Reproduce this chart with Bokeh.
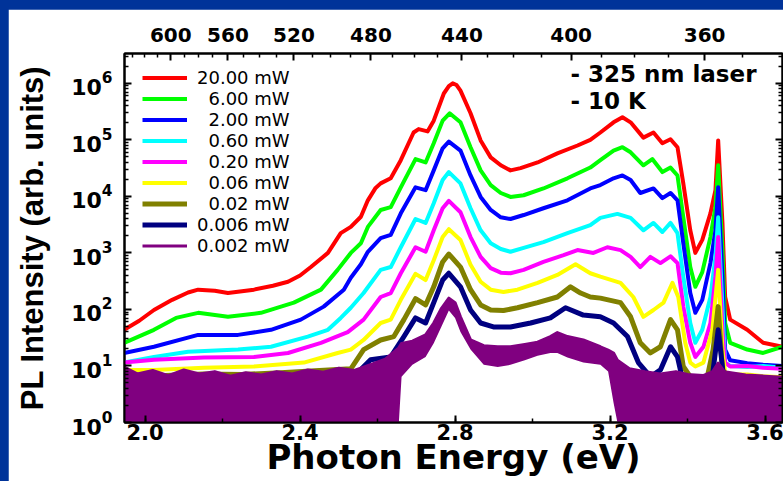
import numpy as np
from bokeh.plotting import figure
from bokeh.models import (LinearAxis, LogAxis, FixedTicker, LogTickFormatter, CustomJSTickFormatter,
                          Legend, LegendItem, Label, Range1d, SingleIntervalTicker)
from bokeh.layouts import column
from bokeh.embed import file_html
from bokeh.resources import INLINE

# ---------------- data (photon energy in eV, log10 of PL intensity) ----------------
legend_labels = ["20.00 mW", "6.00 mW", "2.00 mW", "0.60 mW", "0.20 mW",
                 "0.06 mW", "0.02 mW", "0.006 mW", "0.002 mW"]
colors = ["#FF0000", "#00FF00", "#0000FF", "#00FFFF", "#FF00FF",
          "#FFFF00", "#808000", "#000080", "#800080"]

E_20 = [1.946, 1.985, 2.023, 2.07, 2.111, 2.137, 2.18, 2.214, 2.25, 2.281, 2.33, 2.369, 2.40, 2.428,
        2.472, 2.505, 2.531, 2.557, 2.575, 2.595, 2.608, 2.634, 2.660, 2.693, 2.706, 2.729, 2.745,
        2.771, 2.784, 2.794, 2.804, 2.814, 2.840, 2.866, 2.892, 2.918, 2.943, 2.969, 3.013, 3.064,
        3.116, 3.149, 3.175, 3.209, 3.232, 3.253, 3.286, 3.312, 3.335, 3.356, 3.374, 3.389, 3.407,
        3.420, 3.438, 3.459, 3.472, 3.479, 3.490, 3.497, 3.510, 3.554, 3.595, 3.645]
L_20 = [1.64, 1.80, 1.99, 2.17, 2.30, 2.35, 2.33, 2.29, 2.32, 2.35, 2.42, 2.49, 2.60, 2.75,
        3.00, 3.35, 3.46, 3.64, 3.93, 4.15, 4.23, 4.32, 4.64, 5.13, 5.19, 5.15, 5.34,
        5.82, 5.95, 6.00, 5.97, 5.87, 5.47, 4.99, 4.69, 4.55, 4.46, 4.50, 4.60, 4.76,
        4.90, 5.00, 5.13, 5.31, 5.40, 5.31, 5.04, 5.13, 4.94, 5.01, 4.87, 4.23, 3.40,
        3.00, 3.23, 3.70, 4.11, 4.99, 3.53, 2.22, 1.82, 1.64, 1.41, 1.34]

E_6 = [1.946, 2.023, 2.08, 2.137, 2.214, 2.299, 2.384, 2.454, 2.497, 2.531, 2.557, 2.575, 2.608,
       2.634, 2.660, 2.698, 2.724, 2.745, 2.768, 2.786, 2.814, 2.840, 2.866, 2.892, 2.918, 2.943,
       2.977, 3.028, 3.090, 3.149, 3.175, 3.209, 3.232, 3.253, 3.286, 3.309, 3.335, 3.356, 3.374,
       3.389, 3.407, 3.420, 3.438, 3.459, 3.472, 3.479, 3.490, 3.497, 3.510, 3.554, 3.595, 3.645]
L_6 = [1.41, 1.64, 1.85, 1.94, 1.87, 1.94, 2.12, 2.35, 2.70, 3.00, 3.17, 3.46, 3.76,
       3.81, 4.16, 4.66, 4.60, 4.94, 5.34, 5.47, 5.31, 4.87, 4.46, 4.20, 4.06, 3.99,
       4.02, 4.14, 4.32, 4.51, 4.64, 4.81, 4.87, 4.78, 4.55, 4.66, 4.43, 4.51, 4.37,
       3.63, 2.75, 2.40, 2.66, 3.28, 3.81, 4.55, 3.05, 1.76, 1.41, 1.29, 1.23, 1.34]

E_2 = [1.946, 2.023, 2.137, 2.240, 2.325, 2.402, 2.461, 2.513, 2.531, 2.557, 2.575, 2.608, 2.634,
       2.660, 2.698, 2.724, 2.745, 2.768, 2.784, 2.814, 2.840, 2.866, 2.892, 2.918, 2.943, 2.977,
       3.028, 3.090, 3.149, 3.175, 3.209, 3.232, 3.253, 3.278, 3.312, 3.335, 3.356, 3.374, 3.389,
       3.407, 3.420, 3.438, 3.459, 3.472, 3.479, 3.490, 3.497, 3.510, 3.554, 3.595, 3.645]
L_2 = [1.23, 1.34, 1.55, 1.55, 1.64, 1.82, 2.05, 2.35, 2.56, 2.80, 3.02, 3.26, 3.32,
       3.70, 4.16, 4.11, 4.46, 4.85, 4.97, 4.81, 4.37, 3.99, 3.76, 3.63, 3.60, 3.67,
       3.79, 3.93, 4.14, 4.20, 4.32, 4.37, 4.29, 4.06, 4.14, 3.97, 4.06, 3.93, 3.17,
       2.29, 1.94, 2.17, 2.82, 3.40, 4.16, 2.58, 1.29, 1.10, 1.05, 1.02, 1.00]

E_06 = [1.946, 2.023, 2.111, 2.240, 2.325, 2.420, 2.472, 2.505, 2.531, 2.564, 2.608, 2.634, 2.660,
        2.698, 2.724, 2.745, 2.768, 2.784, 2.814, 2.840, 2.866, 2.892, 2.918, 2.943, 2.977, 3.028,
        3.090, 3.149, 3.175, 3.219, 3.253, 3.286, 3.312, 3.335, 3.356, 3.374, 3.389, 3.407, 3.420,
        3.438, 3.459, 3.472, 3.479, 3.490, 3.497, 3.510, 3.554, 3.595, 3.645]
L_06 = [1.06, 1.16, 1.25, 1.29, 1.34, 1.52, 1.64, 1.85, 2.03, 2.29, 2.70, 2.75, 3.10,
        3.60, 3.53, 3.88, 4.29, 4.43, 4.23, 3.79, 3.40, 3.17, 3.07, 3.02, 3.09, 3.19,
        3.35, 3.49, 3.62, 3.69, 3.62, 3.40, 3.53, 3.37, 3.53, 3.35, 2.58, 1.76, 1.41,
        1.64, 2.22, 2.93, 3.63, 2.05, 1.06, 1.00, 0.98, 1.00, 0.97]

E_02 = [1.946, 2.023, 2.152, 2.281, 2.369, 2.454, 2.523, 2.564, 2.608, 2.634, 2.660, 2.698, 2.724,
        2.745, 2.768, 2.784, 2.814, 2.840, 2.866, 2.892, 2.918, 2.943, 2.977, 3.028, 3.080, 3.116,
        3.157, 3.193, 3.227, 3.253, 3.278, 3.304, 3.330, 3.356, 3.374, 3.389, 3.407, 3.420, 3.441,
        3.459, 3.472, 3.479, 3.490, 3.497, 3.510, 3.554, 3.595, 3.645]
L_02 = [1.06, 1.11, 1.15, 1.16, 1.23, 1.41, 1.60, 1.82, 2.22, 2.29, 2.64, 3.10, 3.02,
        3.40, 3.79, 3.92, 3.72, 3.28, 2.93, 2.73, 2.65, 2.64, 2.70, 2.84, 2.96, 3.05,
        3.00, 3.10, 3.05, 2.93, 2.75, 2.93, 2.82, 2.94, 2.82, 2.05, 1.41, 1.16, 1.34,
        1.76, 2.58, 3.28, 1.64, 1.06, 0.99, 1.00, 0.97, 0.95]

E_006 = [1.946, 2.023, 2.152, 2.281, 2.410, 2.497, 2.531, 2.564, 2.608, 2.634, 2.660, 2.698, 2.724,
         2.745, 2.768, 2.784, 2.814, 2.840, 2.866, 2.892, 2.925, 2.961, 3.013, 3.064, 3.111, 3.149,
         3.175, 3.227, 3.260, 3.286, 3.312, 3.338, 3.361, 3.376, 3.394, 3.407, 3.420, 3.441, 3.464,
         3.479, 3.490, 3.497, 3.510, 3.554, 3.595, 3.645]
L_006 = [0.93, 0.93, 0.97, 0.99, 1.06, 1.23, 1.29, 1.46, 1.76, 1.82, 2.17, 2.63, 2.52,
         2.87, 3.28, 3.42, 3.23, 2.79, 2.49, 2.35, 2.31, 2.35, 2.47, 2.61, 2.80, 2.64,
         2.58, 2.47, 2.22, 1.87, 1.99, 2.12, 2.47, 2.22, 1.41, 1.06, 0.99, 1.06, 1.64,
         2.70, 1.29, 0.88, 0.85, 0.85, 0.82, 0.80]

E_0002 = [1.946, 2.05, 2.15, 2.25, 2.35, 2.45, 2.531, 2.564, 2.608, 2.642, 2.668, 2.698, 2.724,
          2.745, 2.768, 2.784, 2.814, 2.840, 2.866, 2.892, 2.925, 2.961, 3.013, 3.064, 3.098, 3.124,
          3.149, 3.175, 3.227, 3.253, 3.278, 3.304, 3.330, 3.356, 3.374, 3.389, 3.407, 3.451, 3.466,
          3.479, 3.490, 3.510, 3.554, 3.645]
L_0002 = [0.85, 0.83, 0.86, 0.85, 0.88, 0.92, 0.95, 1.29, 1.46, 1.52, 1.82, 2.19, 2.08,
          2.40, 2.84, 2.98, 2.75, 2.35, 2.08, 1.99, 1.98, 2.03, 2.12, 2.22, 2.40, 2.29,
          2.22, 2.20, 2.12, 1.87, 1.41, 1.23, 1.34, 1.82, 1.64, 0.99, 0.81, 0.81, 1.29,
          2.05, 0.93, 0.76, 0.76, 0.75]

E_0006 = [1.946, 2.10, 2.25, 2.40, 2.531, 2.582, 2.634, 2.668, 2.698, 2.724, 2.745, 2.768, 2.784,
          2.814, 2.840, 2.866, 2.899, 2.943, 2.995, 3.046, 3.085, 3.131, 3.175, 3.209, 3.245, 3.273,
          3.304, 3.330, 3.356, 3.374, 3.389, 3.420, 3.460, 3.479, 3.497, 3.550, 3.645]
L_0006 = [0.75, 0.72, 0.74, 0.76, 0.76, 1.11, 1.16, 1.52, 1.85, 1.76, 2.12, 2.52, 2.64,
          2.40, 1.99, 1.76, 1.69, 1.69, 1.76, 1.85, 2.03, 1.90, 1.87, 1.76, 1.52, 1.06,
          0.81, 0.93, 1.34, 1.16, 0.70, 0.58, 0.60, 1.64, 0.58, 0.58, 0.58]

# 0.002 mW: noisy band, lower and upper envelope (log10)
E_00002 = [1.946, 1.98, 2.02, 2.06, 2.10, 2.14, 2.18, 2.22, 2.26, 2.30, 2.34, 2.38, 2.42, 2.46,
           2.50, 2.54, 2.58, 2.62, 2.655, 2.662, 2.690, 2.724, 2.745, 2.765, 2.784, 2.800, 2.814,
           2.840, 2.874, 2.910, 2.943, 2.980, 3.013, 3.046, 3.064, 3.090, 3.131, 3.175, 3.195,
           3.209, 3.219, 3.25, 3.29, 3.33, 3.37, 3.40, 3.44, 3.465, 3.479, 3.495, 3.55, 3.60, 3.645]
LO_00002 = [0.0, 0.0, 0.0, 0.0, 0.0, 0.0, 0.0, 0.0, 0.0, 0.0, 0.0, 0.0, 0.0, 0.0,
            0.0, 0.0, 0.0, 0.0, 0.0, 0.81, 1.02, 1.16, 1.40, 1.70, 1.98, 1.85, 1.60,
            1.29, 1.02, 0.98, 1.02, 1.10, 1.18, 1.23, 1.23, 1.15, 1.06, 1.02, 0.90,
            0.35, 0.0, 0.0, 0.0, 0.0, 0.0, 0.0, 0.0, 0.0, 0.0, 0.0, 0.0, 0.0, 0.0]
HI_00002 = [0.98, 0.86, 0.92, 0.83, 0.93, 0.86, 0.90, 0.82, 0.88, 0.84, 0.90, 0.86, 0.93, 0.89,
            0.96, 0.92, 1.02, 1.12, 1.32, 1.40, 1.44, 1.55, 1.76, 2.02, 2.20, 2.12, 1.87,
            1.46, 1.36, 1.34, 1.34, 1.38, 1.42, 1.52, 1.59, 1.52, 1.46, 1.34, 1.28,
            1.23, 1.10, 0.95, 0.90, 0.86, 0.90, 0.85, 0.83, 0.90, 1.05, 0.90, 0.84, 0.82, 0.80]

series_E = [E_20, E_6, E_2, E_06, E_02, E_006, E_0002, E_0006]
series_L = [L_20, L_6, L_2, L_06, L_02, L_006, L_0002, L_0006]
line_widths = [4, 4, 4, 4, 4, 4, 5, 5]

top_nm_major = [600, 560, 520, 480, 440, 400, 360]
top_nm_minor = list(range(340, 640, 10))
y_decades = [1, 10, 100, 1000, 10000, 100000, 1000000]

x_lo, x_hi = 1.947, 3.645
y_lo, y_hi = 1.0, 3.37e6
HC = 1239.84

p = figure(width=775, height=472, x_range=Range1d(x_lo, x_hi), y_range=Range1d(y_lo, y_hi),
           y_axis_type="log", output_backend="svg", toolbar_location=None,
           min_border_left=116, min_border_right=1, min_border_top=44, min_border_bottom=59,
           x_axis_label="Photon Energy (eV)", y_axis_label="PL Intensity (arb. units)",
           background_fill_color="white", border_fill_color="white")
p.margin = (9, 0, 0, 8)
p.xgrid.visible = False
p.ygrid.visible = False
p.outline_line_color = "black"
p.outline_line_width = 2

renderers = []
for E, L, c, w in zip(series_E, series_L, colors, line_widths):
    r = p.line(E, 10 ** np.array(L), line_color=c, line_width=w, line_join="round")
    renderers.append(r)

p.varea(x=E_00002, y1=10 ** np.array(LO_00002), y2=10 ** np.array(HI_00002),
        fill_color=colors[8])
r_last = p.line(E_00002, 10 ** np.array(HI_00002), line_color=colors[8], line_width=3,
                line_join="round")
renderers.append(r_last)

# axes
xa = p.xaxis[0]
xa.ticker = SingleIntervalTicker(interval=0.4, num_minor_ticks=2)
xa.formatter = CustomJSTickFormatter(code="return tick.toFixed(1)")
ya = p.yaxis[0]
y_minor = [m * d for d in y_decades for m in range(2, 10) if m * d < y_hi]
ya.ticker = FixedTicker(ticks=y_decades, minor_ticks=y_minor)
ya.formatter = LogTickFormatter()

ra = LogAxis(ticker=FixedTicker(ticks=y_decades, minor_ticks=y_minor),
             formatter=CustomJSTickFormatter(code="return ''"))
p.add_layout(ra, "right")

ta = LinearAxis(ticker=FixedTicker(ticks=[HC / nm for nm in top_nm_major],
                                   minor_ticks=[HC / nm for nm in top_nm_minor if nm not in top_nm_major]),
                formatter=CustomJSTickFormatter(code="return (1239.84/tick).toFixed(0)"))
p.add_layout(ta, "above")

for ax in [xa, ya, ra, ta]:
    ax.axis_line_width = 2
    ax.axis_line_color = "black"
    ax.major_tick_line_width = 2
    ax.major_tick_line_color = "black"
    ax.minor_tick_line_width = 1.5
    ax.minor_tick_line_color = "black"
    ax.major_tick_in = 7
    ax.major_tick_out = 0
    ax.minor_tick_in = 4
    ax.minor_tick_out = 0
    ax.major_label_text_font = "DejaVu Sans"
    ax.major_label_text_font_style = "bold"
    ax.major_label_text_color = "black"
    ax.axis_label_text_color = "black"

xa.major_label_text_font_size = "21px"
xa.major_label_standoff = 1
xa.axis_label_text_font = "DejaVu Sans"
xa.axis_label_text_font_style = "bold"
xa.axis_label_text_font_size = "34px"
xa.axis_label_standoff = -6

ya.major_label_text_font_size = "22px"
ya.major_label_standoff = 12
ya.axis_label_text_font = "Liberation Sans"
ya.axis_label_text_font_style = "bold"
ya.axis_label_text_font_size = "31px"
ya.axis_label_standoff = 18

ra.major_label_standoff = 0
ta.major_label_text_font_size = "20px"
ta.major_label_standoff = 12

# legend (labels right-aligned with figure spaces)
maxlen = max(len(s) for s in legend_labels)
items = [LegendItem(label="\u2007" * (maxlen - len(s)) + s, renderers=[r])
         for s, r in zip(legend_labels, renderers)]
legend = Legend(items=items, location=(18, 166), padding=0, margin=0, spacing=0,
                glyph_width=45, glyph_height=21, label_height=21, label_standoff=10,
                label_text_font="DejaVu Sans", label_text_font_size="18px",
                label_text_color="black",
                border_line_color=None, background_fill_alpha=0)
p.add_layout(legend)

p.add_layout(Label(x=3.098, y=10 ** 6.173, text="- 325 nm laser", text_font="DejaVu Sans",
                   text_font_style="bold", text_font_size="23px", text_baseline="middle",
                   text_color="black"))
p.add_layout(Label(x=3.098, y=10 ** 5.68, text="- 10 K", text_font="DejaVu Sans",
                   text_font_style="bold", text_font_size="23px", text_baseline="middle",
                   text_color="black"))

layout = column(p, styles={"background-color": "#003399"})
open("out.html", "w").write(file_html(layout, INLINE))
